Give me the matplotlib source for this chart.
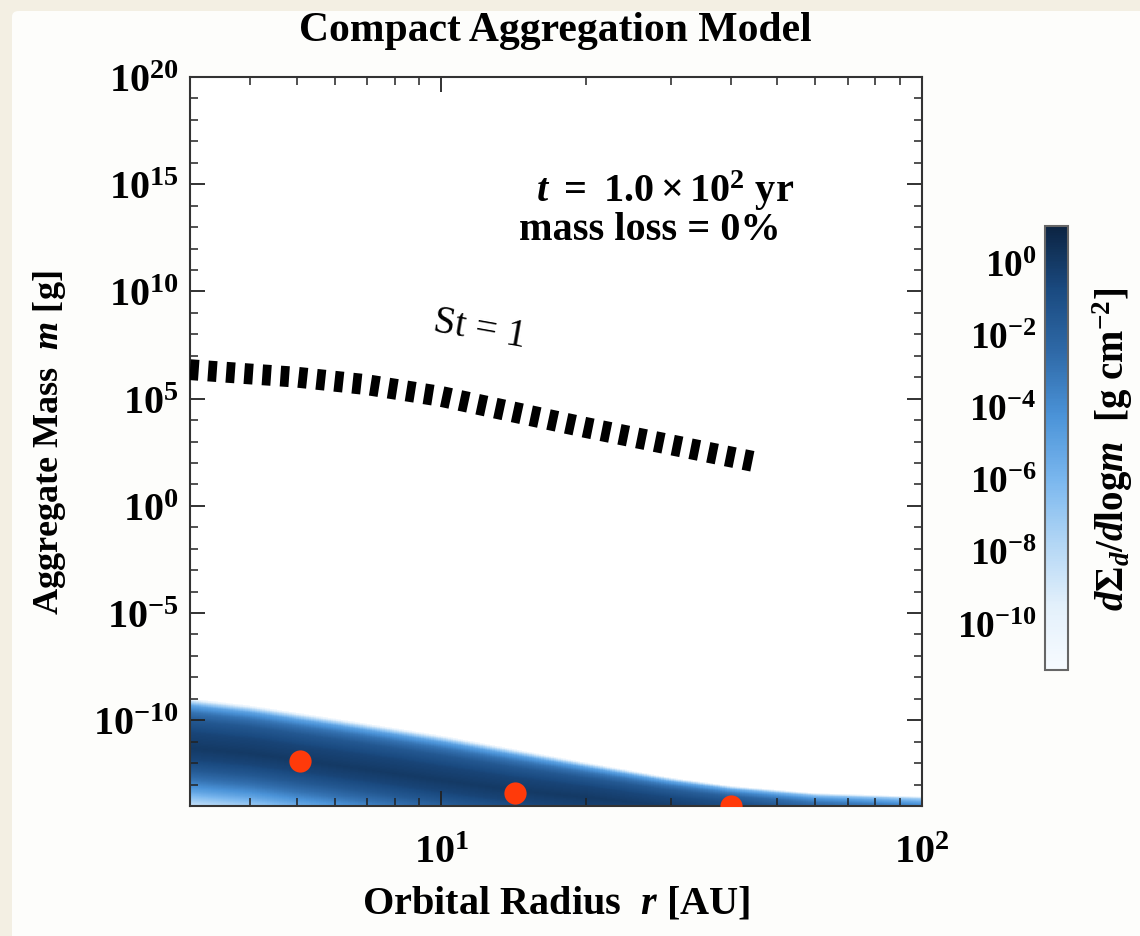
import numpy as np
import matplotlib
matplotlib.use("Agg")
import matplotlib.pyplot as plt
from matplotlib.colors import LogNorm, LinearSegmentedColormap
from matplotlib.patches import FancyBboxPatch
import matplotlib.cm as cm

# --- data ------------------------------------------------------------------
# St = 1 curve (Orbital radius [AU], log10 mass [g])
st_r = [3.0, 4.0, 5.0, 7.0, 10.0, 15.0, 20.0, 30.0, 45.0]
st_logm = [6.35, 6.15, 6.0, 5.65, 5.1, 4.25, 3.65, 2.85, 2.05]

# red markers
dot_r = [5.07, 14.2, 40.1]
dot_m = [1.3e-12, 4.0e-14, 1.0e-14]

# size distribution band: ridge, upper (white) edge in log10 m, peak log10 density
band_r = [3.0, 4.0, 5.0, 7.0, 10.0, 14.0, 20.0, 30.0, 40.0, 60.0, 100.0]
band_ridge = [-11.3, -11.55, -11.85, -12.3, -12.8, -13.25, -13.6, -14.0, -14.2, -14.4, -14.5]
band_edge = [-8.97, -9.3, -9.63, -10.14, -10.7, -11.31, -11.96, -12.66, -13.04, -13.36, -13.5]
band_peak = [0.0, 0.0, 0.0, 0.0, 0.0, 0.0, 0.0, -0.2, -0.5, -1.5, -2.5]
# profile above the ridge (fraction of ridge->edge distance) and below (decades)
up_frac = [0.0, 0.3, 0.55, 0.72, 0.85, 0.93, 1.0]
up_logsig = [0.0, -0.5, -1.5, -3.0, -5.0, -8.0, -11.5]
down_dec = [0.0, 0.5, 1.0, 1.5, 2.0, 2.5, 3.0, 4.0]
down_logsig = [0.0, -0.5, -1.5, -3.0, -5.0, -7.5, -10.0, -13.0]

cbar_ticks = [1e0, 1e-2, 1e-4, 1e-6, 1e-8, 1e-10]
y_major = [1e-10, 1e-5, 1e0, 1e5, 1e10, 1e15, 1e20]

# --- style ------------------------------------------------------------------
plt.rcParams['font.family'] = ['Liberation Serif', 'DejaVu Serif']
plt.rcParams['font.weight'] = 'bold'
plt.rcParams['axes.labelweight'] = 'bold'
plt.rcParams['mathtext.fontset'] = 'custom'
plt.rcParams['mathtext.rm'] = 'Liberation Serif:bold'
plt.rcParams['mathtext.it'] = 'Liberation Serif:italic:bold'
plt.rcParams['mathtext.bf'] = 'Liberation Serif:bold'

cmap = LinearSegmentedColormap.from_list(
    'deep', ['#f7fbff', '#e3f0fb', '#b2d6f5', '#7ab7ee', '#4b93d8', '#2f6aa8', '#1a4a80', '#0c2442'])
norm = LogNorm(vmin=10**-11.3, vmax=10**1.0)

fig = plt.figure(figsize=(11.4, 9.37), dpi=100, facecolor='#f3efe3')
panel = FancyBboxPatch((12/1140, -0.05), 1.1, 1 - 12/937 + 0.05, boxstyle='round,pad=0,rounding_size=0.006',
                       transform=fig.transFigure, facecolor='#fdfdfb', edgecolor='none', zorder=-10)
fig.patches.append(panel)

ax = fig.add_axes([190/1140, 1 - 807/937, 732/1140, 729/937])

# density field on a fine grid
rr = np.logspace(np.log10(3), 2, 300)
lm = np.linspace(-14.2, -8.0, 500)
R, LM = np.meshgrid(rr, lm)
ridge = np.interp(np.log10(rr), np.log10(band_r), band_ridge)
edge = np.interp(np.log10(rr), np.log10(band_r), band_edge)
peak = np.interp(np.log10(rr), np.log10(band_r), band_peak)
Z = np.full(R.shape, -20.0)
for j in range(len(rr)):
    above = lm >= ridge[j]
    frac = (lm[above] - ridge[j]) / (edge[j] - ridge[j])
    Z[above, j] = peak[j] + np.interp(frac, up_frac, up_logsig, right=-20)
    Z[~above, j] = peak[j] + np.interp(ridge[j] - lm[~above], down_dec, down_logsig, right=-20)
S = np.ma.masked_less(10**Z, 10**-11.3)
ax.pcolormesh(R, 10**LM, S, cmap=cmap, norm=norm, shading='auto', rasterized=True, zorder=1)

ax.plot(st_r, 10**np.array(st_logm), color='black', lw=15, dashes=(0.42, 0.45),
        solid_capstyle='butt', dash_capstyle='butt', zorder=3)
ax.plot(dot_r, dot_m, 'o', color='#ff3a0a', ms=16, mec='none', zorder=4)

ax.set_xscale('log')
ax.set_yscale('log')
ax.set_xlim(3, 100)
ax.set_ylim(1e-14, 1e20)
ax.set_yticks(y_major)
ax.set_yticks([10.0**k for k in range(-14, 21) if k % 5 != 0], minor=True)
ax.set_yticklabels([], minor=True)
ax.set_xticks([10, 100])
ax.tick_params(which='both', direction='in', top=True, right=True, labelsize=29, color='#222222')
ax.tick_params(which='major', length=11, width=1.3)
ax.tick_params(which='minor', length=6, width=1.1)
ax.tick_params(axis='y', pad=8)
ax.tick_params(axis='x', pad=20)
for s in ax.spines.values():
    s.set_color('#333333')
    s.set_linewidth(1.5)

ax.set_xlabel(r'Orbital Radius  $r$ [AU]', fontsize=29, labelpad=10)
ax.set_ylabel(r'Aggregate Mass  $m$ [g]', fontsize=26, labelpad=18)

ax.text(0.649, 0.846, r'$t\ =\ 1.0\times10^{2}$ yr', transform=ax.transAxes, fontsize=29, ha='center', va='center')
ax.text(0.628, 0.791, 'mass loss = 0%', transform=ax.transAxes, fontsize=29, ha='center', va='center')
ax.text(0.396, 0.655, 'St = 1', transform=ax.transAxes, fontsize=28, ha='center', va='center',
        rotation=-10, fontweight='normal')

fig.text(555/1140, 1 - 31/937, 'Compact Aggregation Model', fontsize=30, ha='center', va='center')

# colorbar
cax = fig.add_axes([1045/1140, 1 - 671/937, 23/1140, 444/937])
sm = cm.ScalarMappable(norm=norm, cmap=cmap)
cb = fig.colorbar(sm, cax=cax)
cb.set_ticks(cbar_ticks)
cb.outline.set_edgecolor('#666666')
cb.outline.set_linewidth(1.5)
cax.yaxis.set_ticks_position('left')
cax.tick_params(length=0, labelsize=27, pad=6)
cax.minorticks_off()
cax.yaxis.set_label_position('right')
cb.set_label(r'$d\Sigma_d/d\mathrm{log}m$  [g cm$^{-2}$]', fontsize=28, labelpad=16)

fig.savefig('out.png', dpi=100, facecolor=fig.get_facecolor())
